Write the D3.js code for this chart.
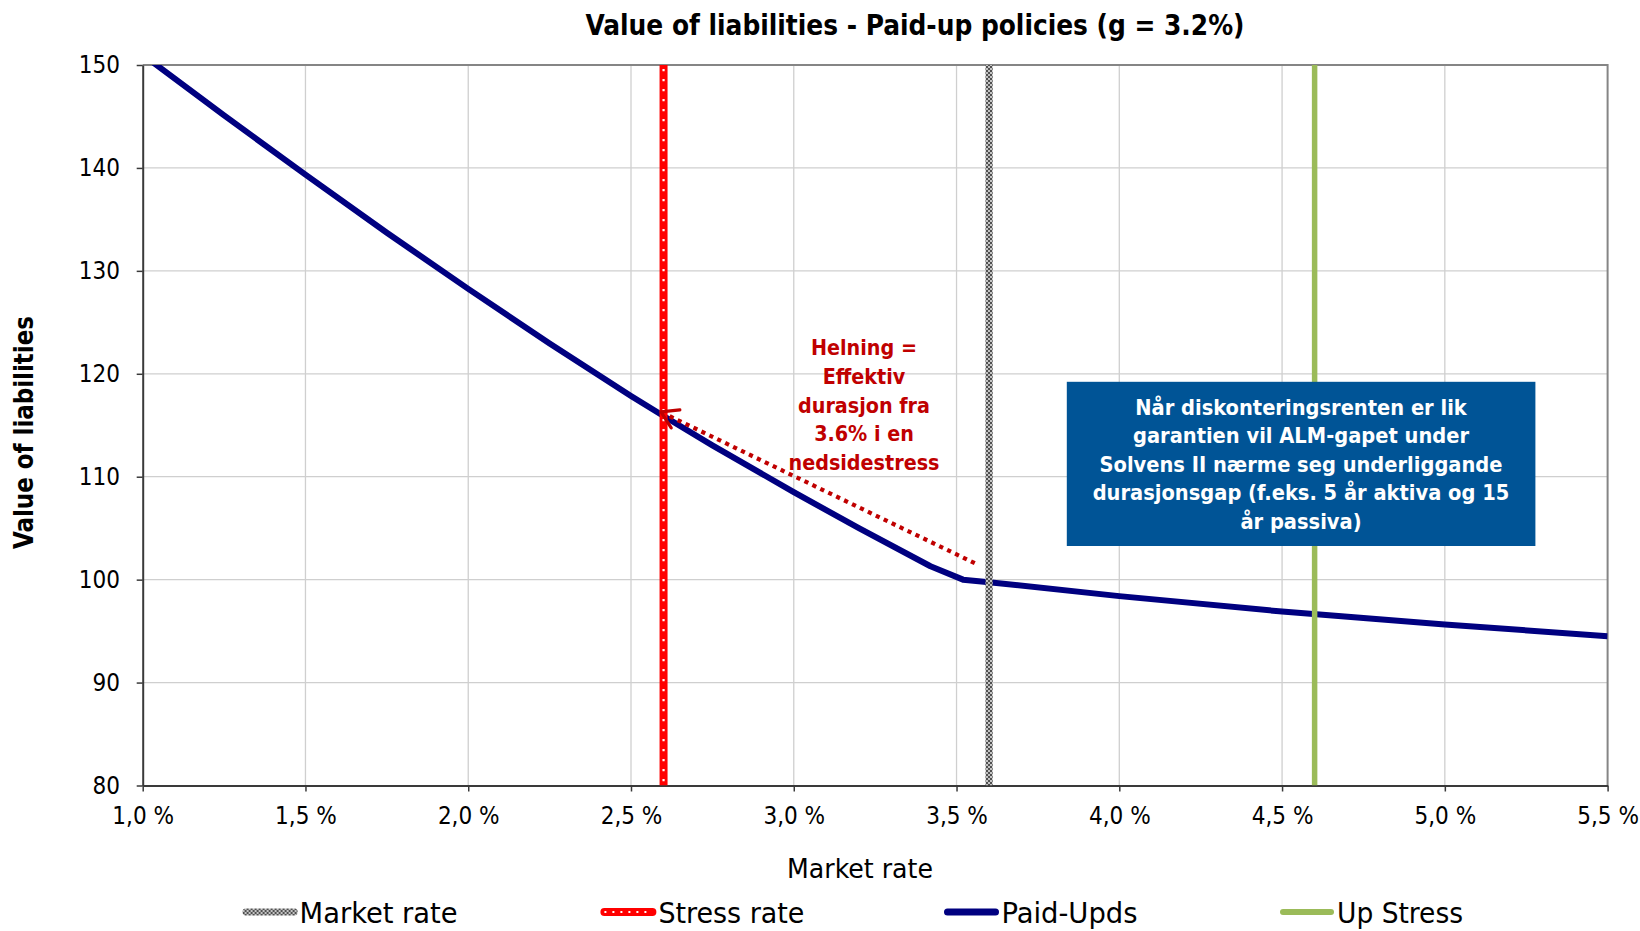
<!DOCTYPE html>
<html>
<head>
<meta charset="utf-8">
<script src="https://cdn.jsdelivr.net/npm/d3@7"></script>
<style>
  html, body { margin: 0; padding: 0; background: #fff; }
  svg { display: block; }
  text { font-family: "DejaVu Sans Condensed", "DejaVu Sans", sans-serif; }
</style>
</head>
<body>
<svg id="chart" width="1640" height="931"></svg>
<script>
// ---- data ----
const rates  = [1.0, 1.25, 1.5, 1.75, 2.0, 2.25, 2.5, 2.6, 2.75, 3.0, 3.2, 3.42, 3.52, 3.6, 4.0, 4.5, 5.0, 5.5];
const paidUp = [151.0, 145.1, 139.35, 133.7, 128.25, 122.95, 117.85, 115.9, 113.05, 108.5, 105.0, 101.3, 100.0, 99.75, 98.4, 96.9, 95.65, 94.5];

const marketRate = 3.6;
const stressRate = 2.6;
const upStress   = 4.6;

const xTicks = [1.0, 1.5, 2.0, 2.5, 3.0, 3.5, 4.0, 4.5, 5.0, 5.5];
const yTicks = [80, 90, 100, 110, 120, 130, 140, 150];

const seriesNames = ["Market rate", "Stress rate", "Paid-Upds", "Up Stress"];

// slope annotation: from market-rate point back to the stressed point
const slopeFrom = {rate: 3.556, value: 101.6};
const slopeTo   = {rate: 2.592, value: 116.3};

const titleText  = "Value of liabilities - Paid-up policies (g = 3.2%)";
const xLabelText = "Market rate";
const yLabelText = "Value of liabilities";
const noteRed  = ["Helning =", "Effektiv", "durasjon fra", "3.6% i en", "nedsidestress"];
const noteBlue = ["Når diskonteringsrenten er lik", "garantien vil ALM-gapet under",
                  "Solvens II nærme seg underliggande", "durasjonsgap (f.eks. 5 år aktiva og 15",
                  "år passiva)"];

// ---- layout ----
const plot = {left: 142.7, right: 1607.6, top: 65, bottom: 785.5};
const svg = d3.select("#chart");

const x = d3.scaleLinear().domain([1.0, 5.5]).range([plot.left, plot.right]);
const y = d3.scaleLinear().domain([80, 150]).range([plot.bottom, plot.top]);

// squeeze a text element horizontally to a given width
function fitWidth(sel, w) {
  sel.attr("textLength", w).attr("lengthAdjust", "spacingAndGlyphs");
}
function squeeze(sel, k) {
  sel.each(function() {
    const n = this.getComputedTextLength();
    d3.select(this).attr("textLength", n * k).attr("lengthAdjust", "spacingAndGlyphs");
  });
}

const defs = svg.append("defs");
defs.append("clipPath").attr("id", "plotClip")
  .append("rect")
  .attr("x", plot.left).attr("y", plot.top)
  .attr("width", plot.right - plot.left).attr("height", plot.bottom - plot.top);

// checkered fill used for the market-rate line
const checker = defs.append("pattern").attr("id", "checker")
  .attr("patternUnits", "userSpaceOnUse").attr("width", 4).attr("height", 4);
checker.append("rect").attr("width", 4).attr("height", 4).attr("fill", "#c4c4c4");
checker.append("rect").attr("width", 2).attr("height", 2).attr("fill", "#505050");
checker.append("rect").attr("x", 2).attr("y", 2).attr("width", 2).attr("height", 2).attr("fill", "#505050");

// ---- gridlines ----
const grid = svg.append("g");
grid.selectAll("line.v").data(xTicks.slice(1, -1)).join("line")
  .attr("x1", d => x(d)).attr("x2", d => x(d))
  .attr("y1", plot.top).attr("y2", plot.bottom)
  .attr("stroke", "#cfcfcf").attr("stroke-width", 1.3);
grid.selectAll("line.h").data(yTicks.slice(1, -1)).join("line")
  .attr("x1", plot.left).attr("x2", plot.right)
  .attr("y1", d => y(d)).attr("y2", d => y(d))
  .attr("stroke", "#cfcfcf").attr("stroke-width", 1.3);

// top and right frame
svg.append("path")
  .attr("d", `M${plot.left},${plot.top}H${plot.right}V${plot.bottom}`)
  .attr("fill", "none").attr("stroke", "#858585").attr("stroke-width", 2);

// ---- axes ----
const fmtPct = d => d3.format(".1f")(d).replace(".", ",") + " %";

const yAxis = svg.append("g").attr("transform", `translate(${plot.left},0)`)
  .call(d3.axisLeft(y).tickValues(yTicks).tickSize(6).tickPadding(16.7).tickSizeOuter(0));
const xAxis = svg.append("g").attr("transform", `translate(0,${plot.bottom})`)
  .call(d3.axisBottom(x).tickValues(xTicks).tickFormat(fmtPct).tickSize(6).tickPadding(15).tickSizeOuter(0));

[yAxis, xAxis].forEach(a => {
  a.select(".domain").attr("stroke", "#3a3a3a").attr("stroke-width", 2);
  a.selectAll(".tick line").attr("stroke", "#3a3a3a").attr("stroke-width", 1.5);
  a.selectAll(".tick text").attr("fill", "#000").style("font-size", "24px")
    .style("font-family", '"DejaVu Sans Condensed", "DejaVu Sans", sans-serif');
});

// ---- series ----
const series = svg.append("g").attr("clip-path", "url(#plotClip)");

const line = d3.line().x((d, i) => x(rates[i])).y(d => y(d));
series.append("path").datum(paidUp)
  .attr("d", line)
  .attr("fill", "none").attr("stroke", "#000080").attr("stroke-width", 6)
  .attr("stroke-linejoin", "round");

// market rate (checkered)
series.append("rect")
  .attr("x", x(marketRate) - 3.6).attr("width", 7.2)
  .attr("y", plot.top).attr("height", plot.bottom - plot.top)
  .attr("fill", "url(#checker)");

// stress rate (red with white dots)
series.append("line")
  .attr("x1", x(stressRate)).attr("x2", x(stressRate))
  .attr("y1", plot.top).attr("y2", plot.bottom)
  .attr("stroke", "#ff0000").attr("stroke-width", 8);
series.append("line")
  .attr("x1", x(stressRate)).attr("x2", x(stressRate))
  .attr("y1", plot.top + 4).attr("y2", plot.bottom)
  .attr("stroke", "#ffffff").attr("stroke-width", 2.2)
  .attr("stroke-dasharray", "2.2 7.8");

// up stress (green)
series.append("line")
  .attr("x1", x(upStress)).attr("x2", x(upStress))
  .attr("y1", plot.top).attr("y2", plot.bottom)
  .attr("stroke", "#9bbb59").attr("stroke-width", 5.5);

// ---- slope annotation ----
const p0 = [x(slopeFrom.rate), y(slopeFrom.value)];
const p1 = [x(slopeTo.rate), y(slopeTo.value)];
svg.append("line")
  .attr("x1", p0[0]).attr("y1", p0[1]).attr("x2", p1[0] + 8).attr("y2", p1[1] + 4)
  .attr("stroke", "#c00000").attr("stroke-width", 4.2)
  .attr("stroke-dasharray", "4.2 4.6");
{
  const ang = Math.atan2(p0[1] - p1[1], p0[0] - p1[0]);
  const len = 19, spread = 0.55;
  const a1 = [p1[0] + len * Math.cos(ang - spread), p1[1] + len * Math.sin(ang - spread)];
  const a2 = [p1[0] + len * Math.cos(ang + spread), p1[1] + len * Math.sin(ang + spread)];
  svg.append("path")
    .attr("d", `M${a1[0]},${a1[1]}L${p1[0]},${p1[1]}L${a2[0]},${a2[1]}`)
    .attr("fill", "none").attr("stroke", "#c00000").attr("stroke-width", 3.2)
    .attr("stroke-linecap", "round").attr("stroke-linejoin", "round");
}

const red = svg.append("g").attr("fill", "#c00000")
  .style("font-size", "21.5px").style("font-weight", "bold");
red.selectAll("text").data(noteRed).join("text")
  .attr("x", 864).attr("y", (d, i) => 355 + i * 28.8)
  .attr("text-anchor", "middle").text(d => d);
{
  const n = red.selectAll("text").nodes()[4].getComputedTextLength();
  red.selectAll("text").call(squeeze, 151 / n);
}

// blue text box
svg.append("rect")
  .attr("x", 1066.8).attr("y", 381.8).attr("width", 468.6).attr("height", 164.2)
  .attr("fill", "#005496");
const blue = svg.append("g").attr("fill", "#ffffff")
  .style("font-size", "21px").style("font-weight", "bold");
blue.selectAll("text").data(noteBlue).join("text")
  .attr("x", 1301).attr("y", (d, i) => 414.5 + i * 28.5)
  .attr("text-anchor", "middle").text(d => d);
{
  const n = blue.selectAll("text").nodes()[2].getComputedTextLength();
  blue.selectAll("text").call(squeeze, 403 / n);
}

// ---- titles ----
svg.append("text").attr("x", 915).attr("y", 34.5).attr("text-anchor", "middle")
  .style("font-size", "29px").style("font-weight", "bold").text(titleText)
  .call(fitWidth, 659);

svg.append("text").attr("transform", "translate(33.3,432.5) rotate(-90)")
  .attr("text-anchor", "middle")
  .style("font-size", "27px").style("font-weight", "bold").text(yLabelText)
  .call(fitWidth, 233);

svg.append("text").attr("x", 860).attr("y", 878).attr("text-anchor", "middle")
  .style("font-size", "26px").text(xLabelText)
  .call(fitWidth, 146);

// ---- legend ----
const legendX = [242.6, 601.4, 944.5, 1280];
const legendW = [158, 146, 136, 126];
const legendY = 912;
const leg = svg.append("g");
seriesNames.forEach((name, i) => {
  const g = leg.append("g").attr("transform", `translate(${legendX[i]},${legendY})`);
  if (i === 0) {
    g.append("rect").attr("x", 0).attr("y", -3.6).attr("width", 55).attr("height", 7.2)
      .attr("rx", 3).attr("fill", "url(#checker)");
  } else if (i === 1) {
    g.append("line").attr("x1", 3).attr("x2", 51).attr("stroke", "#ff0000")
      .attr("stroke-width", 8).attr("stroke-linecap", "round");
    g.append("line").attr("x1", 3).attr("x2", 51).attr("stroke", "#fff")
      .attr("stroke-width", 2).attr("stroke-dasharray", "2 6");
  } else if (i === 2) {
    g.append("line").attr("x1", 3).attr("x2", 51).attr("stroke", "#000080")
      .attr("stroke-width", 7).attr("stroke-linecap", "round");
  } else {
    g.append("line").attr("x1", 3).attr("x2", 51).attr("stroke", "#9bbb59")
      .attr("stroke-width", 6).attr("stroke-linecap", "round");
  }
  g.append("text").attr("x", 57).attr("y", 10.5)
    .style("font-size", "27.5px").text(name)
    .call(fitWidth, legendW[i]);
});
</script>
</body>
</html>
